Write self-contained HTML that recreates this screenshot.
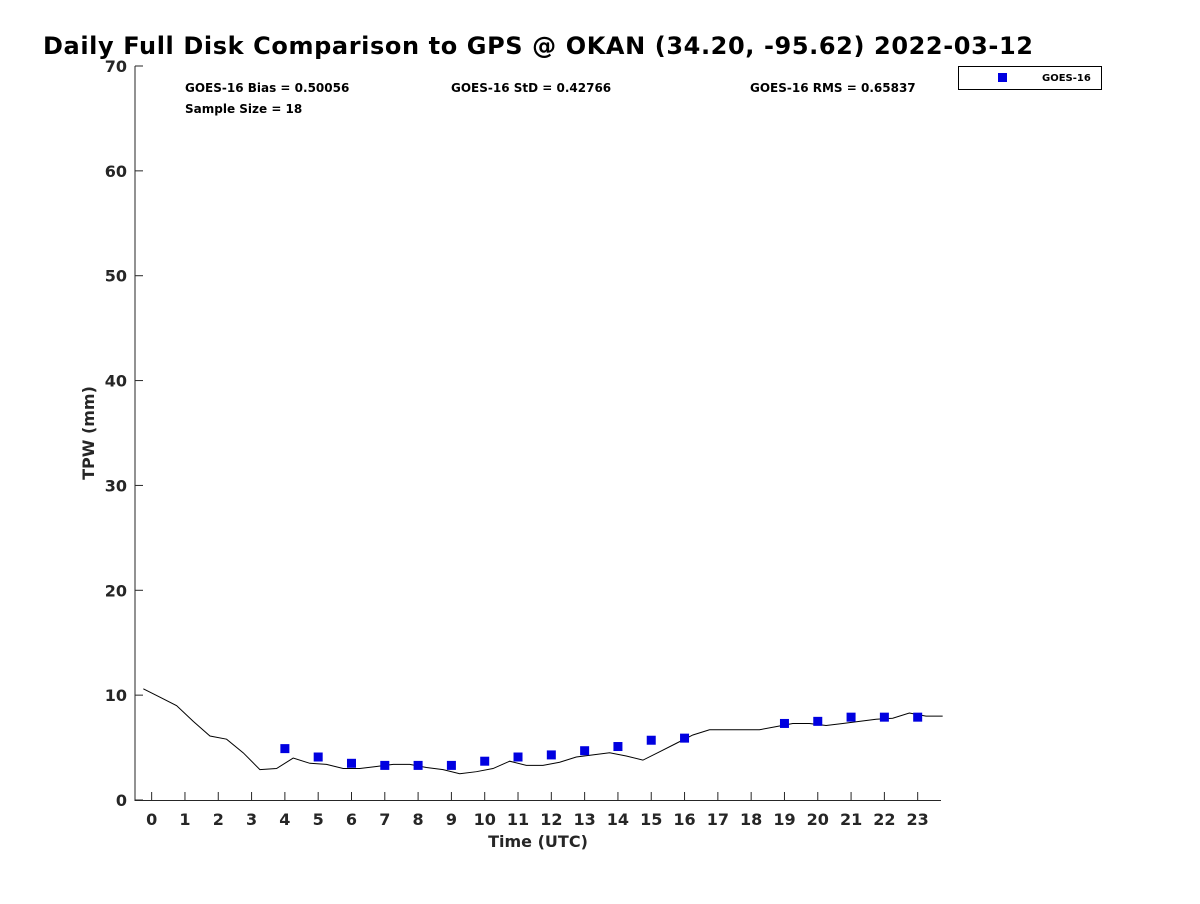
<!DOCTYPE html>
<html><head><meta charset="utf-8"><style>
body{margin:0;background:#fff;width:1200px;height:900px;overflow:hidden;font-family:"DejaVu Sans","Liberation Sans",sans-serif}
svg text{font-family:"DejaVu Sans","Liberation Sans",sans-serif;font-weight:bold}
</style></head><body>
<svg id="chart" width="1200" height="900" xmlns="http://www.w3.org/2000/svg">
<text x="538" y="54" font-size="24" text-anchor="middle" textLength="990" fill="#000">Daily Full Disk Comparison to GPS @ OKAN (34.20, -95.62) 2022-03-12</text>
<g id="axes"></g>
<g id="marks"></g>
<text x="185" y="92" font-size="12" fill="#000">GOES-16 Bias = 0.50056</text>
<text x="185" y="113" font-size="12" fill="#000">Sample Size = 18</text>
<text x="451" y="92" font-size="12" fill="#000">GOES-16 StD = 0.42766</text>
<text x="750" y="92" font-size="12" fill="#000">GOES-16 RMS = 0.65837</text>
<g>
<rect x="958.5" y="66.5" width="143" height="23" fill="#fff" stroke="#000" stroke-width="1"/>
<rect x="998" y="73" width="9" height="9" fill="#0000e0"/>
<text x="1042" y="81" font-size="10" fill="#000">GOES-16</text>
</g>
<text x="538" y="847" font-size="16" text-anchor="middle" fill="#262626">Time (UTC)</text>
<text transform="translate(94,433) rotate(-90)" font-size="16" text-anchor="middle" fill="#262626">TPW (mm)</text>
</svg>
<script>
const gpsTimes=[-0.25,0.25,0.75,1.25,1.75,2.25,2.75,3.25,3.75,4.25,4.75,5.25,5.75,6.25,6.75,7.25,7.75,8.25,8.75,9.25,9.75,10.25,10.75,11.25,11.75,12.25,12.75,13.25,13.75,14.25,14.75,15.25,15.75,16.25,16.75,17.25,17.75,18.25,18.75,19.25,19.75,20.25,20.75,21.25,21.75,22.25,22.75,23.25,23.75];
const gpsValues=[10.6,9.8,9.0,7.5,6.1,5.8,4.5,2.9,3.0,4.0,3.5,3.4,3.0,3.0,3.2,3.4,3.4,3.1,2.9,2.5,2.7,3.0,3.7,3.3,3.3,3.6,4.1,4.3,4.5,4.2,3.8,4.6,5.4,6.2,6.7,6.7,6.7,6.7,7.0,7.3,7.3,7.1,7.3,7.5,7.7,7.8,8.3,8.0,8.0];
const goesTimes=[4,5,6,7,8,9,10,11,12,13,14,15,16,19,20,21,22,23];
const goesValues=[4.9,4.1,3.5,3.3,3.3,3.3,3.7,4.1,4.3,4.7,5.1,5.7,5.9,7.3,7.5,7.9,7.9,7.9];
const xTicks=[0,1,2,3,4,5,6,7,8,9,10,11,12,13,14,15,16,17,18,19,20,21,22,23];
const yTicks=[0,10,20,30,40,50,60,70];
const NS="http://www.w3.org/2000/svg";
const X0=135,X1=941,Y0=800,Y1=66,XMIN=-0.5,XMAX=23.7,YMAX=70;
const xs=h=>X0+(h-XMIN)/(XMAX-XMIN)*(X1-X0);
const ys=v=>Y0-v/YMAX*(Y0-Y1);
function mk(tag,attrs,parent){const e=document.createElementNS(NS,tag);for(const k in attrs)e.setAttribute(k,attrs[k]);parent.appendChild(e);return e;}
const axes=document.getElementById('axes'),marks=document.getElementById('marks');
const xa=mk('path',{d:`M${X0},${Y1}V${Y0+0.5}H${X1}`,fill:'none',stroke:'#262626','stroke-width':1},axes);


xTicks.forEach(t=>{const x=xs(t);
 const l=mk('line',{x1:x,x2:x,y1:Y0,y2:Y0-8,stroke:'#262626'},axes);
 
 
 const tx=mk('text',{x:x,y:Y0+25,'font-size':16,'text-anchor':'middle',fill:'#262626'},axes);tx.textContent=t;
 
 });
yTicks.forEach(t=>{const y=ys(t);
 const l=mk('line',{x1:X0,x2:X0+8,y1:y,y2:y,stroke:'#262626'},axes);
 
 
 const tx=mk('text',{x:X0-8,y:y+6,'font-size':16,'text-anchor':'end',fill:'#262626'},axes);tx.textContent=t;
 
 });
const line=mk('polyline',{points:gpsTimes.map((t,i)=>xs(t)+','+ys(gpsValues[i])).join(' '),fill:'none',stroke:'#000','stroke-width':1},marks);


goesTimes.forEach((t,i)=>{const r=mk('rect',{x:xs(t)-4.5,y:ys(goesValues[i])-4.5,width:9,height:9,fill:'#0000e0'},marks);
 
 });
</script>
</body></html>
